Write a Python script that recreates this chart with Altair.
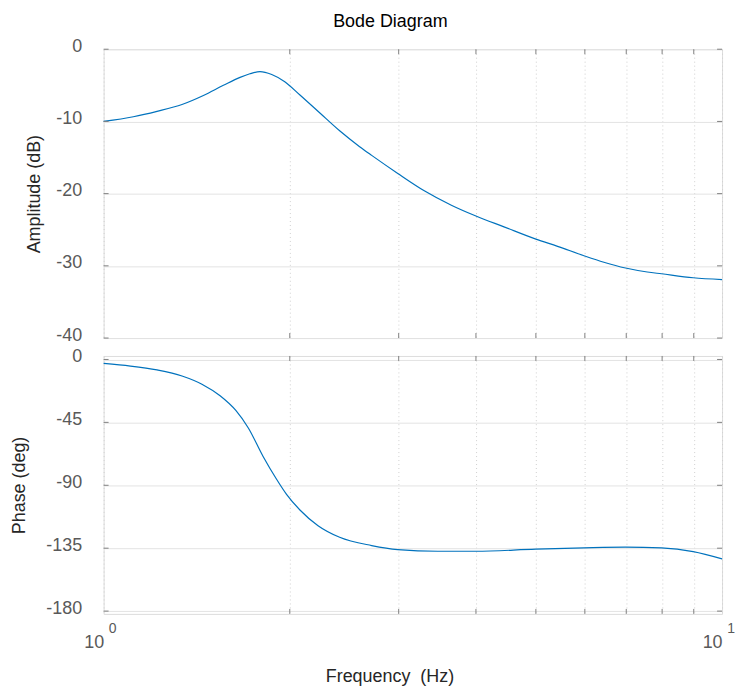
import altair as alt
import pandas as pd

# Amplitude curve (Hz, dB)
amp_freq = [1.0, 1.117, 1.22, 1.339, 1.45, 1.562, 1.662, 1.724, 1.79, 1.87, 1.963, 2.075,
            2.235, 2.408, 2.594, 2.713, 2.99, 3.30, 3.65, 4.00, 4.44, 5.00, 5.42, 5.98,
            6.44, 6.98, 7.57, 7.98, 8.98, 10.0]
amp_db = [-10.0, -9.35, -8.6, -7.65, -6.4, -5.0, -3.9, -3.4, -3.1, -3.5, -4.5, -6.3,
          -8.8, -11.3, -13.5, -14.7, -17.2, -19.6, -21.6, -23.1, -24.6, -26.3, -27.3, -28.6,
          -29.5, -30.3, -30.85, -31.1, -31.65, -31.9]

# Phase curve (Hz, deg)
ph_freq = [1.0, 1.105, 1.22, 1.339, 1.442, 1.543, 1.636, 1.714, 1.81, 1.904, 1.976, 2.075,
           2.222, 2.408, 2.713, 2.99, 3.47, 4.0, 5.0, 5.98, 6.98, 7.98, 8.98, 10.0]
ph_deg = [-2.8, -4.7, -7.5, -11.8, -17.7, -26.0, -36.5, -49.0, -69.2, -85.7, -96.5, -107.5,
          -118.9, -127.2, -133.1, -136.0, -137.2, -137.2, -135.7, -134.8, -134.3, -134.8, -137.4, -142.6]

x_ticks = [1, 2, 3, 4, 5, 6, 7, 8, 9, 10]
x_minor = [2, 3, 4, 5, 6, 7, 8, 9]
amp_ticks = [-40, -30, -20, -10, 0]
ph_ticks = [-180, -135, -90, -45, 0]
sup_labels = pd.DataFrame({"f": [1, 10], "s": ["0", "1"]})

W = 621
H1 = 290
H2 = 259
FONT = "Liberation Sans"
LINE = "#0072BD"
FRAME = "#808080"
LABEL = "#595959"
TITLE = "#262626"

xscale = alt.Scale(type="log", domain=[1, 10], nice=False)

def x_axis(show_labels):
    kw = dict(values=x_ticks, grid=True, gridDash=[1, 3], gridColor="#d0d0d0",
              domain=False, ticks=False)
    if show_labels:
        return alt.Axis(labelExpr="(datum.value == 1 || datum.value == 10) ? '10' : ''",
                        labelAlign="right", labelPadding=20, labelFontSize=18, labelFont=FONT,
                        labelColor=LABEL, title="Frequency\u00a0 (Hz)", titleFont=FONT,
                        titleFontSize=18, titleFontWeight="normal", titleColor=TITLE,
                        titlePadding=16, titleX=287, titleAlign="center", **kw)
    return alt.Axis(labels=False, title=None, **kw)

def y_axis(vals, title, tpad):
    return alt.Axis(values=vals, grid=True, gridColor="#e3e3e3", domain=False, ticks=False,
                    labelExpr="datum.value + ''",
                    labelFontSize=18, labelFont=FONT, labelColor=LABEL, labelPadding=22,
                    labelOffset=-3, title=title, titleFont=FONT, titleFontSize=18,
                    titleFontWeight="normal", titleColor=TITLE, titlePadding=tpad)

def tick_layers(yvals, yscale, H):
    xt = pd.DataFrame({"f": x_minor})
    yt = pd.DataFrame({"v": yvals})
    tb = alt.Chart(xt).mark_rule(color=FRAME, strokeWidth=1)
    top = tb.encode(x=alt.X("f:Q", scale=xscale), y=alt.value(0), y2=alt.value(5))
    bot = tb.encode(x=alt.X("f:Q", scale=xscale), y=alt.value(H), y2=alt.value(H - 5))
    lr = alt.Chart(yt).mark_rule(color=FRAME, strokeWidth=1)
    left = lr.encode(y=alt.Y("v:Q", scale=yscale), x=alt.value(0), x2=alt.value(5))
    right = lr.encode(y=alt.Y("v:Q", scale=yscale), x=alt.value(W - 5), x2=alt.value(W))
    return [top, bot, left, right]

amp_df = pd.DataFrame({"f": amp_freq, "db": amp_db})
ph_df = pd.DataFrame({"f": ph_freq, "deg": ph_deg})

amp_scale = alt.Scale(domain=[-40, 0], nice=False)
ph_scale = alt.Scale(domain=[-182, 2.5], nice=False)

amp_line = alt.Chart(amp_df).mark_line(color=LINE, strokeWidth=1.2, interpolate="monotone").encode(
    x=alt.X("f:Q", scale=xscale, axis=x_axis(False)),
    y=alt.Y("db:Q", scale=amp_scale, axis=y_axis(amp_ticks, "Amplitude (dB)", 12)),
)
top = alt.layer(amp_line, *tick_layers(amp_ticks, amp_scale, H1)).properties(width=W, height=H1)

ph_line = alt.Chart(ph_df).mark_line(color=LINE, strokeWidth=1.2, interpolate="monotone").encode(
    x=alt.X("f:Q", scale=xscale, axis=x_axis(True)),
    y=alt.Y("deg:Q", scale=ph_scale, axis=y_axis(ph_ticks, "Phase (deg)", 17)),
)
sup = alt.Chart(sup_labels).mark_text(font=FONT, fontSize=14, color=LABEL, align="center",
                                      baseline="middle", dx=9).encode(
    x=alt.X("f:Q", scale=xscale), y=alt.value(H2 + 15), text="s:N")
bottom = alt.layer(ph_line, sup, *tick_layers(ph_ticks, ph_scale, H2)).properties(width=W, height=H2)

chart = alt.vconcat(top, bottom, spacing=18, bounds="flush").properties(
    title=alt.TitleParams("Bode Diagram", font=FONT, fontSize=18, fontWeight="normal",
                          color="#000000", anchor="start", dx=324, offset=6),
    padding={"left": 2, "top": 3, "right": 0, "bottom": 0},
).configure_view(stroke=FRAME, strokeWidth=1.3).configure(background="white")

chart.save("out.html", embed_options={"renderer": "svg", "actions": False})
